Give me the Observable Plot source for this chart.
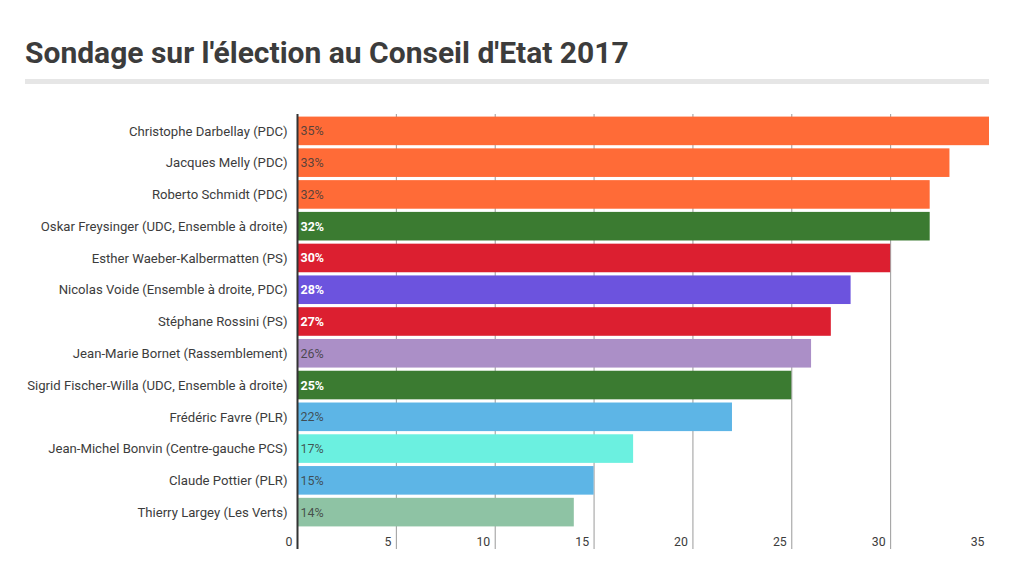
<!DOCTYPE html>
<html><head><meta charset="utf-8">
<script src="https://cdn.jsdelivr.net/npm/d3@7"></script>
<script src="https://cdn.jsdelivr.net/npm/@observablehq/plot@0.6"></script>
<style>
body{margin:0;background:#fff;font-family:Roboto,sans-serif;}
#wrap{position:relative;width:1015px;height:579px;overflow:hidden;background:#fff}
#title{position:absolute;left:25px;top:38px;font-weight:700;font-size:30px;line-height:30px;font-family:Roboto,sans-serif;color:#3c3c3c;white-space:nowrap;transform-origin:left top;}
#rule{position:absolute;left:25px;top:79px;width:964px;height:5px;background:#e6e6e6}
#chart{position:absolute;left:0;top:100px}
</style></head><body>
<div id="wrap"><div id="title">Sondage sur l'élection au Conseil d'Etat 2017</div><div id="rule"></div><div id="chart"></div></div>
<script>
const candidates = [
  "Christophe Darbellay (PDC)",
  "Jacques Melly (PDC)",
  "Roberto Schmidt (PDC)",
  "Oskar Freysinger (UDC, Ensemble à droite)",
  "Esther Waeber-Kalbermatten (PS)",
  "Nicolas Voide (Ensemble à droite, PDC)",
  "Stéphane Rossini (PS)",
  "Jean-Marie Bornet (Rassemblement)",
  "Sigrid Fischer-Willa (UDC, Ensemble à droite)",
  "Frédéric Favre (PLR)",
  "Jean-Michel Bonvin (Centre-gauche PCS)",
  "Claude Pottier (PLR)",
  "Thierry Largey (Les Verts)"
];
const values = [35, 33, 32, 32, 30, 28, 27, 26, 25, 22, 17, 15, 14];
const parties = ["PDC","PDC","PDC","UDC","PS","EAD","PS","Rassemblement","UDC","PLR","PCS","PLR","Verts"];
const xTicks = [0, 5, 10, 15, 20, 25, 30, 35];
const gridTicks = [5, 10, 15, 20, 25, 30];

const partyDomain = ["PDC","UDC","PS","EAD","Rassemblement","PLR","PCS","Verts"];
const partyColors = ["#ff6b37","#3b7b31","#dc1f30","#6c53de","#ab8fc7","#5db5e6","#6bf0e0","#8ec3a4"];
const darkParties = new Set(["UDC","PS","EAD"]);

const data = candidates.map((name, i) => ({name, value: values[i], party: parties[i]}));
const darkData = data.filter(d => darkParties.has(d.party));
const lightData = data.filter(d => !darkParties.has(d.party));

const chart = Plot.plot({
  width: 1015,
  height: 479,
  marginTop: 15,
  marginBottom: 51,
  marginLeft: 297,
  marginRight: 26,
  style: {fontFamily: "Roboto, sans-serif", color: "#3c3c3c", background: "transparent"},
  x: {domain: [0, 35], axis: null},
  y: {domain: candidates, paddingInner: 0.1, paddingOuter: 0.05, round: false, axis: null, label: null},
  color: {domain: partyDomain, range: partyColors},
  marks: [
    Plot.ruleX(gridTicks, {stroke: "#9a9a9a", strokeWidth: 1, insetTop: -1, insetBottom: -21}),
    Plot.barX(data, {x: "value", y: "name", fill: "party"}),
    Plot.ruleX([0], {stroke: "#333", strokeWidth: 2, insetTop: -1, insetBottom: -21}),
    Plot.axisY({tickSize: 0, tickPadding: 10, fontSize: 13.15, label: null}),
    Plot.axisX(xTicks, {anchor: "bottom", tickSize: 0, tickPadding: 9, textAnchor: "end", dx: -5, fontSize: 12.3, label: null}),
    Plot.text(darkData, {x: 0, y: "name", text: d => d.value + "%", dx: 3, textAnchor: "start", fill: "#fff", fontWeight: "bold", fontSize: 12.5}),
    Plot.text(lightData, {x: 0, y: "name", text: d => d.value + "%", dx: 3, textAnchor: "start", fill: "#3a3a3a", fillOpacity: 0.85, fontSize: 12.5})
  ]
});
document.getElementById("chart").appendChild(chart);
</script>
</body></html>
